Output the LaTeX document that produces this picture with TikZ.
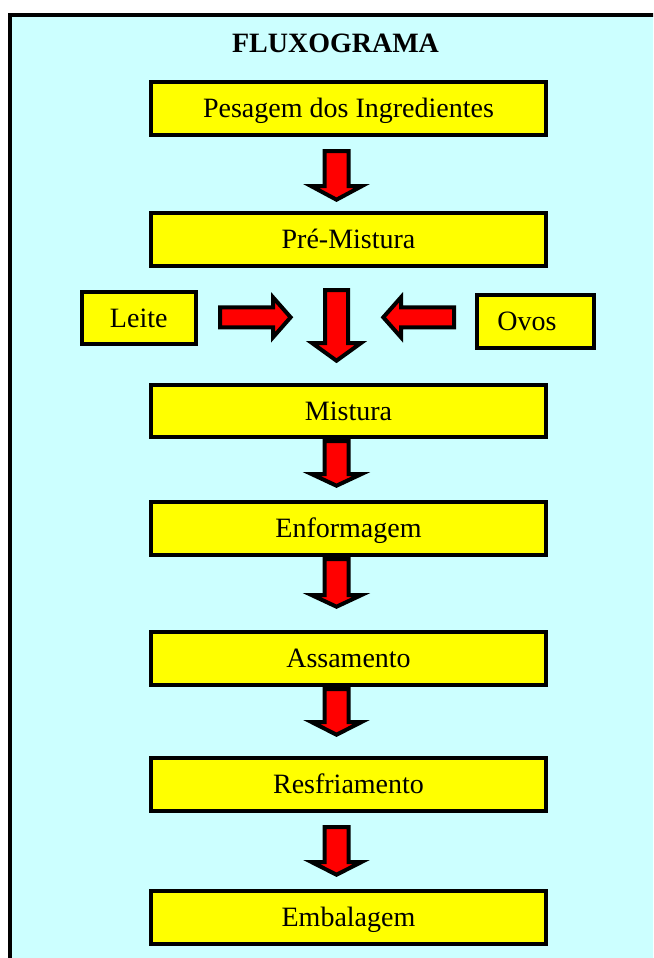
\documentclass[tikz,border=0pt]{standalone}
\usepackage{fontspec}
\setmainfont{Liberation Serif}
\definecolor{bgcyan}{HTML}{CCFFFF}
\definecolor{boxyellow}{HTML}{FFFF00}
\definecolor{arrred}{HTML}{FF0000}
\tikzset{
  stepbox/.style={draw=black, line width=4pt, fill=boxyellow, minimum width=395pt,
    minimum height=53pt, inner sep=0pt, text height=18.5pt, text depth=0pt,
    font=\fontsize{28}{32}\selectfont},
  sidebox/.style={stepbox, minimum width=115pt},
  blockarrow/.style={draw=black, line width=4pt, fill=arrred, line join=miter, miter limit=10},
  titletext/.style={font=\fontsize{28}{32}\selectfont\bfseries, text height=18.5pt,
    text depth=0pt, inner sep=0pt},
}
% #1 centre x, #2 top (outer), #3 head base (outer), #4 tip (outer), #5 half shaft, #6 half head
\newcommand\darrowblk[6]{%
  \draw[blockarrow] (#1-#5,#2+2) -- (#1+#5,#2+2) -- (#1+#5,#3+2) -- (#1+#6,#3+2)
    -- (#1,#4-2.3) -- (#1-#6,#3+2) -- (#1-#5,#3+2) -- cycle;}
\begin{document}
\begin{tikzpicture}[x=1pt,y=-1pt]
\useasboundingbox (0,0) rectangle (653,958);
\clip (0,0) rectangle (653,958);
\draw[line width=4pt, fill=bgcyan] (10,15) rectangle (720,1010);

\node[titletext] (title) at (335.5,43) {FLUXOGRAMA};

\node[stepbox] (pes) at (348.5,108) {Pesagem dos Ingredientes};
\node[stepbox] (pre) at (348.5,239.5) {Pré-Mistura};
\node[sidebox, minimum width=113.5pt, minimum height=52pt] (leite) at (138.75,318) {Leite};
\node[sidebox, minimum width=117pt] (ovos) at (535.5,321.5) {\hspace*{-17pt}Ovos};
\node[stepbox, minimum height=52pt] (mis) at (348.5,411) {Mistura};
\node[stepbox] (enf) at (348.5,528) {Enformagem};
\node[stepbox] (ass) at (348.5,658.5) {Assamento};
\node[stepbox] (res) at (348.5,784.5) {Resfriamento};
\node[stepbox] (emb) at (348.5,917) {Embalagem};

% vertical block arrows
\darrowblk{336.5}{149}{184}{202}{12}{25.5}
\darrowblk{336.5}{288}{341}{363}{11.5}{24.5}
\darrowblk{336.5}{439}{472}{488}{12}{25}
\darrowblk{336.5}{557}{593}{609}{12}{25}
\darrowblk{336.5}{687}{720}{737}{12}{25}
\darrowblk{336.5}{825}{860}{877}{12}{25}

% horizontal block arrows
\draw[blockarrow] (220,307.3) -- (273,307.3) -- (273,297.3) -- (290.6,317.3)
  -- (273,337.3) -- (273,327.3) -- (220,327.3) -- cycle;
\draw[blockarrow] (454,307.3) -- (401,307.3) -- (401,297.3) -- (383.3,317.3)
  -- (401,337.3) -- (401,327.3) -- (454,327.3) -- cycle;
\end{tikzpicture}
\end{document}
